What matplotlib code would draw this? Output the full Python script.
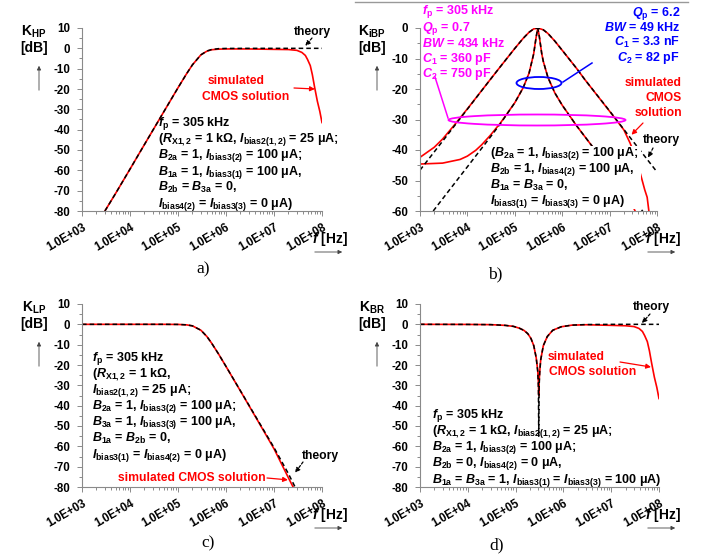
import matplotlib
matplotlib.use("Agg")
import matplotlib.pyplot as plt
import matplotlib.ticker as mtick
from matplotlib.patches import Ellipse, Rectangle, FancyArrowPatch
from matplotlib.lines import Line2D

W, H = 705, 558

plt.rcParams["font.family"] = ["Liberation Sans", "DejaVu Sans"]
plt.rcParams["font.weight"] = "bold"
plt.rcParams["axes.unicode_minus"] = False
plt.rcParams["mathtext.fontset"] = "custom"
plt.rcParams["mathtext.rm"] = "Liberation Sans:bold"
plt.rcParams["mathtext.it"] = "Liberation Sans:italic:bold"
plt.rcParams["mathtext.bf"] = "Liberation Sans:bold"

RED = "#ff0000"
MAGENTA = "#ff00ff"
BLUE = "#0000ff"
AXIS_GRAY = "#8a8a8a"

# ---- data (frequency in Hz, gain in dB) ----
x_ticks = [1e3, 1e4, 1e5, 1e6, 1e7, 1e8]

# a) high-pass
hp_f_theory = [3.0e3, 5e3, 1e4, 2e4, 5e4, 1e5, 1.5e5, 2e5, 3e5, 4e5, 5e5, 7e5, 1e6, 3e6, 1e7, 3e7, 1e8]
hp_db_theory = [-80, -71.4, -59.4, -47.3, -31.4, -19.4, -12.6, -8.1, -3.2, -1.3, -0.6, -0.15, -0.05, 0, 0, 0, 0]
hp_f_sim = [3.0e3, 5e3, 1e4, 2e4, 5e4, 1e5, 1.5e5, 2e5, 3e5, 4e5, 5e5, 7e5, 1e6, 3e6, 1e7, 2e7, 3e7,
            3.8e7, 4.5e7, 5e7, 5.7e7, 6.3e7, 7e7, 8e7, 9e7, 1e8]
hp_db_sim = [-80, -71.4, -59.4, -47.3, -31.4, -19.4, -12.6, -8.1, -3.2, -1.4, -0.7, -0.4, -0.3, -0.3, -0.5,
             -0.6, -1.0, -2.0, -3.5, -5.5, -8.5, -13, -19, -26, -31, -36.5]

# b) band-pass, Qp = 0.7
bp1_f_theory = [1e3, 3e3, 1e4, 3e4, 5e4, 1e5, 1.5e5, 2e5, 2.5e5, 3.05e5, 4e5, 5e5, 7e5, 1e6, 2e6, 3e6, 1e7, 3e7, 1e8]
bp1_db_theory = [-46.6, -37.1, -26.6, -17.0, -12.6, -6.7, -3.4, -1.4, -0.3, 0, -0.6, -1.8, -4.3, -7.3, -13.2,
                 -16.9, -27.2, -36.8, -47.2]
bp1_f_sim = [1e3, 2e3, 3e3, 5e3, 1e4, 3e4, 5e4, 1e5, 1.5e5, 2e5, 2.5e5, 3.05e5, 4e5, 5e5, 7e5, 1e6, 2e6, 3e6,
             1e7, 2e7, 2.7e7, 3.5e7, 4.5e7, 5.5e7, 6.2e7, 6.8e7]
bp1_db_sim = [-42.4, -39.1, -36.4, -32.3, -26.5, -17.0, -12.6, -6.7, -3.4, -1.4, -0.3, 0, -0.6, -1.8, -4.3,
              -7.3, -13.2, -16.9, -27.3, -33.4, -37.7, -42, -48, -53, -55.5, -60.5]

# b) band-pass, Qp = 6.2
bp2_f_theory = [1.9e3, 3e3, 1e4, 3e4, 5e4, 1e5, 1.5e5, 2e5, 2.5e5, 2.8e5, 3.05e5, 3.3e5, 3.7e5, 4e5, 5e5, 7e5,
                1e6, 2e6, 3e6, 1e7, 3e7, 5e7]
bp2_db_theory = [-60, -56.0, -45.5, -35.9, -31.3, -24.5, -19.6, -14.8, -8.5, -3.3, 0, -2.9, -8.4, -11.0, -16.2,
                 -21.3, -25.3, -32.0, -35.6, -46.2, -55.7, -60.1]
bp2_f_sim = [1e3, 3e3, 7e3, 1e4, 1.5e4, 2e4, 3e4, 5e4, 1e5, 1.5e5, 2e5, 2.5e5, 2.8e5, 3.05e5, 3.3e5, 3.7e5, 4e5,
             5e5, 7e5, 1e6, 2e6, 3e6, 1e7, 2e7, 2.5e7, 3.4e7, 3.7e7]
bp2_db_sim = [-44.6, -44.3, -43.1, -42.0, -40.1, -38.3, -35.3, -31.1, -24.5, -19.6, -14.8, -8.5, -3.3, 0, -2.9,
              -8.4, -11.0, -16.2, -21.3, -25.3, -32.0, -35.6, -46.3, -53, -55.4, -59.8, -61]

# c) low-pass
lp_f_theory = [1e3, 1e4, 5e4, 1e5, 1.5e5, 2e5, 3e5, 4e5, 5e5, 7e5, 1e6, 2e6, 5e6, 1e7, 2e7, 2.75e7]
lp_db_theory = [0, 0, 0, -0.05, -0.25, -0.75, -2.9, -6.0, -9.2, -14.6, -20.7, -32.7, -48.6, -60.6, -73.5, -80]
lp_f_sim = [1e3, 1e4, 5e4, 1e5, 1.5e5, 2e5, 3e5, 4e5, 5e5, 7e5, 1e6, 2e6, 5e6, 1e7, 2e7, 2.5e7]
lp_db_sim = [0, 0, 0, -0.05, -0.25, -0.75, -2.9, -6.0, -9.2, -14.6, -20.7, -32.8, -48.9, -61.2, -75.5, -80]

# d) band-reject
br_f_theory = [1e3, 1e4, 3e4, 6e4, 9e4, 1.2e5, 1.5e5, 1.8e5, 2.1e5, 2.4e5, 2.7e5, 2.9e5, 3.0e5, 3.05e5, 3.1e5,
               3.2e5, 3.35e5, 3.8e5, 4.6e5, 6e5, 9e5, 1.5e6, 3e6, 1e7, 1e8]
br_db_theory = [0, -0.05, -0.15, -0.5, -1.0, -1.9, -3.0, -4.6, -7.0, -10.5, -16.5, -23, -31, -55, -31, -23.5,
                -17.5, -10.5, -6, -2.9, -1.2, -0.4, -0.1, 0, 0]
br_f_sim = [1e3, 1e4, 3e4, 6e4, 9e4, 1.2e5, 1.5e5, 1.8e5, 2.1e5, 2.4e5, 2.7e5, 2.9e5, 3.0e5, 3.05e5, 3.1e5,
            3.2e5, 3.35e5, 3.8e5, 4.6e5, 6e5, 9e5, 1.5e6, 3e6, 1e7, 2e7, 3e7, 3.8e7, 4.5e7, 5e7, 5.7e7, 6.3e7,
            7e7, 8e7, 9e7, 1e8]
br_db_sim = [0, -0.05, -0.15, -0.5, -1.0, -1.9, -3.0, -4.6, -7.0, -10.5, -16.5, -22.5, -28.5, -35, -28.5, -23,
             -17.5, -10.5, -6, -2.9, -1.2, -0.4, -0.2, -0.5, -0.7, -1.1, -2.0, -3.5, -5.5, -8.5, -13, -19, -26,
             -31, -36.5]


fig = plt.figure(figsize=(W / 100, H / 100), dpi=100)


def fx(x, y):
    # pixel position (from top-left) -> figure fraction
    return x / W, 1 - y / H


def add_axes_px(x0, y0, x1, y1):
    return fig.add_axes([x0 / W, 1 - y1 / H, (x1 - x0) / W, (y1 - y0) / H])


def setup(ax, ymin, ymax):
    ax.set_xscale("log")
    ax.set_xlim(1e3, 1e8)
    ax.set_ylim(ymin, ymax)
    ax.set_xticks(x_ticks)
    ax.set_xticklabels([f"{v:.1E}" for v in x_ticks], rotation=30, ha="right",
                       rotation_mode="anchor", fontsize=8.3)
    ax.xaxis.set_minor_locator(mtick.LogLocator(base=10, subs=range(2, 10)))
    ax.xaxis.set_minor_formatter(mtick.NullFormatter())
    ax.set_yticks(range(ymin, ymax + 1, 10))
    ax.yaxis.set_minor_locator(mtick.MultipleLocator(5))
    ax.spines[["top", "right"]].set_visible(False)
    ax.spines[["left", "bottom"]].set_color(AXIS_GRAY)
    ax.spines[["left", "bottom"]].set_linewidth(0.8)
    ax.tick_params(which="both", colors=AXIS_GRAY, labelcolor="black", width=0.7)
    ax.tick_params(which="major", length=3.5, labelsize=8.3)
    ax.tick_params(which="minor", length=2)
    ax.tick_params(axis="y", pad=5)
    ax.tick_params(axis="x", pad=4)
    ax.set_facecolor("none")


def plot_pair(ax, f_sim, db_sim, f_th, db_th):
    ax.plot(f_sim, db_sim, color=RED, lw=1.2, zorder=2)
    ax.plot(f_th, db_th, color="black", lw=1.1, ls=(0, (3, 2)), zorder=2.1)


def text_lines(x, ys, lines, color="black", ha="left", size=9.0):
    for y, s in zip(ys, lines):
        fig.text(*fx(x, y + 4), s, fontsize=size, fontweight="bold", color=color,
                 ha=ha, va="baseline")


def arrow(ax, tip, start_px, color, dashed=False):
    ax.annotate("", xy=tip, xycoords="data", xytext=fx(*start_px), textcoords="figure fraction",
                arrowprops=dict(arrowstyle="-|>", color=color, lw=0.9,
                                ls=(0, (2, 1.5)) if dashed else "-",
                                mutation_scale=7, shrinkA=0, shrinkB=0))


def fig_arrow(p0, p1):
    fig.add_artist(FancyArrowPatch(fx(*p0), fx(*p1), transform=fig.transFigure,
                                   arrowstyle="-|>", mutation_scale=6, lw=0.6, color="#444444"))


def axis_labels(name, x_k, y_k, x_f, y_f):
    fig.text(*fx(x_k, y_k + 8), "K$_{\\mathrm{" + name + "}}$", fontsize=10, ha="center", va="baseline")
    fig.text(*fx(x_k, y_k + 24), "[dB]", fontsize=10, ha="center", va="baseline")
    fig_arrow((x_k + 5, y_k + 65), (x_k + 5, y_k + 35))
    fig.text(*fx(x_f, y_f + 5), "$f$ [Hz]", fontsize=10, ha="center", va="baseline")
    fig_arrow((x_f - 18, y_f + 14), (x_f + 15, y_f + 14))


ax_a = add_axes_px(82, 28, 322, 211)
ax_b = add_axes_px(420, 28, 657, 211)
ax_c = add_axes_px(82, 304, 322, 487)
ax_d = add_axes_px(420, 304, 659, 487)

setup(ax_a, -80, 10)
setup(ax_b, -60, 0)
setup(ax_c, -80, 10)
setup(ax_d, -80, 10)

plot_pair(ax_a, hp_f_sim, hp_db_sim, hp_f_theory, hp_db_theory)
plot_pair(ax_b, bp1_f_sim, bp1_db_sim, bp1_f_theory, bp1_db_theory)
plot_pair(ax_b, bp2_f_sim, bp2_db_sim, bp2_f_theory, bp2_db_theory)
plot_pair(ax_c, lp_f_sim, lp_db_sim, lp_f_theory, lp_db_theory)
plot_pair(ax_d, br_f_sim, br_db_sim, br_f_theory, br_db_theory)

# axis captions
axis_labels("HP", 34, 28, 330, 238)
axis_labels("iBP", 372, 28, 663, 238)
axis_labels("LP", 34, 304, 330, 514)
axis_labels("BR", 372, 304, 663, 514)

# panel letters
for s, (x, y) in zip(["a)", "b)", "c)", "d)"], [(203, 269), (495, 274), (208, 543), (497, 545)]):
    fig.text(*fx(x, y), s, fontsize=12.5, fontweight="normal", family="Liberation Serif",
             ha="center", va="center")

# ---- a) annotations ----
fig.text(*fx(312, 32), "theory", fontsize=8.7, ha="center", va="center")
arrow(ax_a, (4.5e7, 1.2), (312, 38), "black", dashed=True)
fig.text(*fx(236, 81), "simulated", fontsize=8.7, color=RED, ha="center", va="center")
fig.text(*fx(246, 97), "CMOS solution", fontsize=8.7, color=RED, ha="center", va="center")
arrow(ax_a, (7.1e7, -20), (294, 88), RED)
text_lines(158, [122, 138, 154, 171, 187, 203], [
    r"$f_\mathrm{p}$ = 305 kHz",
    r"($R_\mathrm{X1,2}$ = 1 kΩ, $I_\mathrm{bias2(1,2)}$ = 25 μA;",
    r"$B_\mathrm{2a}$ = 1, $I_\mathrm{bias3(2)}$ = 100 μA;",
    r"$B_\mathrm{1a}$ = 1, $I_\mathrm{bias3(1)}$ = 100 μA,",
    r"$B_\mathrm{2b}$ = $B_\mathrm{3a}$ = 0,",
    r"$I_\mathrm{bias4(2)}$ = $I_\mathrm{bias3(3)}$ = 0 μA)",
])

# ---- b) annotations ----
fig.add_artist(Line2D([355 / W, 688 / W], [1 - 2 / H, 1 - 2 / H], color="#999999", lw=1))
ax_b.add_patch(Rectangle(fx(486, 209), 155 / W, 63 / H, transform=fig.transFigure,
                         facecolor="white", edgecolor="none", zorder=2.3, clip_on=False))
ax_b.add_patch(Ellipse(fx(539, 83), 45 / W, 12 / H, transform=fig.transFigure, fill=False,
                       edgecolor=BLUE, lw=1.3, zorder=3, clip_on=False))
ax_b.add_patch(Ellipse(fx(537, 120), 177 / W, 11 / H, transform=fig.transFigure, fill=False,
                       edgecolor=MAGENTA, lw=1.3, zorder=3, clip_on=False))
fig.add_artist(Line2D([563 / W, 592 / W], [1 - 82 / H, 1 - 63 / H], color=BLUE, lw=1.1))
fig.add_artist(Line2D([435 / W, 448 / W], [1 - 77 / H, 1 - 118 / H], color=MAGENTA, lw=1.1))
text_lines(422, [10, 27, 43, 58, 73], [
    r"$f_\mathrm{p}$ = 305 kHz",
    r"$Q_\mathrm{p}$ = 0.7",
    r"$BW$ = 434 kHz",
    r"$C_1$ = 360 pF",
    r"$C_2$ = 750 pF",
], color=MAGENTA)
text_lines(680, [12, 27, 42, 57], [
    r"$Q_\mathrm{p}$ = 6.2",
    r"$BW$ = 49 kHz",
    r"$C_1$ = 3.3 nF",
    r"$C_2$ = 82 pF",
], color=BLUE, ha="right")
text_lines(682, [82, 97, 112], ["simulated", "CMOS", "solution"], color=RED, ha="right", size=8.7)
arrow(ax_b, (2.9e7, -35), (643, 123), RED)
fig.text(*fx(661, 140), "theory", fontsize=8.7, ha="center", va="center")
arrow(ax_b, (6.5e7, -42.5), (653, 148), "black", dashed=True)
text_lines(490, [152, 168, 185, 200], [
    r"($B_\mathrm{2a}$ = 1, $I_\mathrm{bias3(2)}$ = 100 μA;",
    r"$B_\mathrm{2b}$ = 1, $I_\mathrm{bias4(2)}$ = 100 μA,",
    r"$B_\mathrm{1a}$ = $B_\mathrm{3a}$ = 0,",
    r"$I_\mathrm{bias3(1)}$ = $I_\mathrm{bias3(3)}$ = 0 μA)",
])

# ---- c) annotations ----
text_lines(92, [357, 373, 389, 405, 421, 438, 454], [
    r"$f_\mathrm{p}$ = 305 kHz",
    r"($R_\mathrm{X1,2}$ = 1 kΩ,",
    r"$I_\mathrm{bias2(1,2)}$ = 25 μA;",
    r"$B_\mathrm{2a}$ = 1, $I_\mathrm{bias3(2)}$ = 100 μA;",
    r"$B_\mathrm{3a}$ = 1, $I_\mathrm{bias3(3)}$ = 100 μA,",
    r"$B_\mathrm{1a}$ = $B_\mathrm{2b}$ = 0,",
    r"$I_\mathrm{bias3(1)}$ = $I_\mathrm{bias4(2)}$ = 0 μA)",
])
fig.text(*fx(320, 456), "theory", fontsize=8.7, ha="center", va="center")
arrow(ax_c, (2.75e7, -73), (303, 462), "black", dashed=True)
fig.text(*fx(192, 478), "simulated CMOS solution", fontsize=8.7, color=RED, ha="center", va="center")
arrow(ax_c, (1.95e7, -76.5), (267, 478), RED)

# ---- d) annotations ----
fig.text(*fx(651, 307), "theory", fontsize=8.7, ha="center", va="center")
arrow(ax_d, (4.4e7, 0.6), (650, 314), "black", dashed=True)
fig.text(*fx(548, 357), "simulated", fontsize=8.7, color=RED, ha="left", va="center")
fig.text(*fx(549, 372), "CMOS solution", fontsize=8.7, color=RED, ha="left", va="center")
arrow(ax_d, (6.8e7, -21), (620, 362), RED)
text_lines(432, [414, 430, 446, 462, 479], [
    r"$f_\mathrm{p}$ = 305 kHz",
    r"($R_\mathrm{X1,2}$ = 1 kΩ, $I_\mathrm{bias2(1,2)}$ = 25 μA;",
    r"$B_\mathrm{2a}$ = 1, $I_\mathrm{bias3(2)}$ = 100 μA;",
    r"$B_\mathrm{2b}$ = 0, $I_\mathrm{bias4(2)}$ = 0 μA,",
    r"$B_\mathrm{1a}$ = $B_\mathrm{3a}$ = 1, $I_\mathrm{bias3(1)}$ = $I_\mathrm{bias3(3)}$ = 100 μA)",
])

fig.savefig("out.png", dpi=100, facecolor="white")
